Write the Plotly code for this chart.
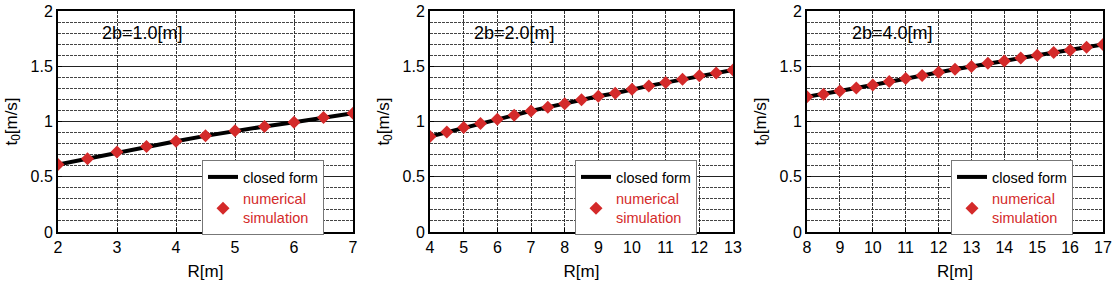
import plotly.graph_objects as go

R1 = [2, 2.5, 3, 3.5, 4, 4.5, 5, 5.5, 6, 6.5, 7]
T1 = [0.61, 0.663, 0.723, 0.774, 0.822, 0.870, 0.916, 0.955, 0.994, 1.036, 1.075]

R2 = [4, 4.5, 5, 5.5, 6, 6.5, 7, 7.5, 8, 8.5, 9, 9.5, 10, 10.5, 11, 11.5, 12, 12.5, 13]
T2 = [0.864, 0.904, 0.946, 0.982, 1.021, 1.057, 1.096, 1.13, 1.16, 1.196, 1.229,
      1.256, 1.292, 1.322, 1.352, 1.383, 1.413, 1.44, 1.467]

R3 = [8, 8.5, 9, 9.5, 10, 10.5, 11, 11.5, 12, 12.5, 13, 13.5, 14, 14.5, 15, 15.5, 16, 16.5, 17]
T3 = [1.223, 1.247, 1.277, 1.304, 1.331, 1.361, 1.389, 1.416, 1.446, 1.473, 1.497,
      1.527, 1.548, 1.575, 1.6, 1.624, 1.645, 1.672, 1.696]

labels = ["2b=1.0[m]", "2b=2.0[m]", "2b=4.0[m]"]
xranges = [(2, 7), (4, 13), (8, 17)]

W, H = 1114, 282
xdoms = [(58, 353), (430, 733), (807, 1103)]
ytop, ybot = 11, 232
legpos = [(202, 160), (575, 160), (951, 160)]
annx = [100, 472, 850]

RED = "#d42a2a"
FONT = "Liberation Sans, Arial, sans-serif"
DASH = "3px,1px"

fig = go.Figure()
data = [(R1, T1), (R2, T2), (R3, T3)]
for i, (R, T) in enumerate(data):
    sfx = "" if i == 0 else str(i + 1)
    leg = "legend" if i == 0 else f"legend{i+1}"
    fig.add_trace(go.Scatter(x=R, y=T, mode="lines", name="closed form",
                             line=dict(color="black", width=4),
                             xaxis="x" + sfx, yaxis="y" + sfx, legend=leg))
    fig.add_trace(go.Scatter(x=R, y=T, mode="markers",
                             name=f"<span style='color:{RED}'>numerical<br>simulation</span>",
                             marker=dict(symbol="diamond", color=RED, size=10),
                             xaxis="x" + sfx, yaxis="y" + sfx, legend=leg))

layout = dict(width=W, height=H, margin=dict(l=0, r=0, t=0, b=0),
              paper_bgcolor="white", plot_bgcolor="white",
              font=dict(family=FONT, size=16, color="black"))
annotations = []
for i in range(3):
    sfx = "" if i == 0 else str(i + 1)
    x0, x1 = xdoms[i]
    xa = dict(domain=[x0 / W, x1 / W], range=list(xranges[i]), dtick=1,
              showline=True, linecolor="black", linewidth=2, mirror=True,
              ticks="inside", ticklen=4, tickcolor="black",
              showgrid=True, gridcolor="#333", gridwidth=1, griddash=DASH,
              zeroline=False, anchor="y" + sfx,
              title=dict(text="R[m]", font=dict(size=17), standoff=10),
              tickfont=dict(size=16), automargin=False)
    ya = dict(domain=[1 - ybot / H, 1 - ytop / H], range=[0, 2], dtick=0.5,
              showline=True, linecolor="black", linewidth=2, mirror=True,
              ticks="inside", ticklen=4, tickcolor="black",
              showgrid=True, gridcolor="#222", gridwidth=1,
              minor=dict(dtick=0.1, showgrid=True, gridcolor="#444", griddash=DASH, gridwidth=1),
              zeroline=False, anchor="x" + sfx,
              title=dict(text="t<sub>0</sub>[m/s]", font=dict(size=17), standoff=9),
              tickfont=dict(size=16), automargin=False)
    layout["xaxis" + sfx] = xa
    layout["yaxis" + sfx] = ya
    lx, ly = legpos[i]
    layout["legend" if i == 0 else f"legend{i+1}"] = dict(
        x=lx / W, y=1 - ly / H, xanchor="left", yanchor="top",
        bgcolor="white", bordercolor="#777", borderwidth=1,
        font=dict(size=14.5, family=FONT), tracegroupgap=0, itemwidth=30)
    annotations.append(dict(x=annx[i] / W, y=1 - 33 / H, xref="paper", yref="paper",
                            text=labels[i], showarrow=False, xanchor="left", yanchor="middle",
                            font=dict(size=18, family=FONT)))
layout["annotations"] = annotations
fig.update_layout(**layout)
fig.write_html("out.html", config={"displayModeBar": False},
               post_script="document.body.style.margin='0';")
